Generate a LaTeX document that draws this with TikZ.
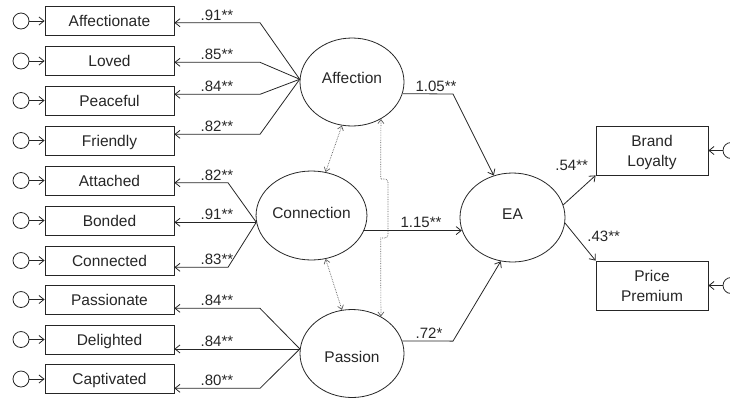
\documentclass[tikz,border=0pt]{standalone}
\usepackage{fontspec}
\setmainfont{Liberation Sans}
\usetikzlibrary{shapes.geometric,arrows.meta}
\definecolor{ink}{HTML}{262626}
\definecolor{dotc}{HTML}{5E5E5E}
\newcommand{\captext}[2]{\raisebox{#1}[11.1pt][0pt]{#2}}
\begin{document}
\begin{tikzpicture}[x=1pt,y=-1pt,
  every node/.style={text=ink},
  ind/.style={draw=ink, line width=0.8pt, minimum width=129pt, minimum height=29pt, inner sep=0pt,
    font=\fontsize{15.5}{20}\selectfont, text height=11.1pt, text depth=0pt},
  obs/.style={draw=ink, line width=0.8pt, minimum width=112pt, minimum height=49pt, inner sep=0pt,
    align=center, font=\fontsize{15.5}{20}\selectfont, text height=31.1pt, text depth=0pt},
  lat/.style={draw=ink, ellipse, line width=0.8pt, minimum width=104pt, minimum height=88pt, inner sep=0pt,
    font=\fontsize{15.5}{20}\selectfont},
  err/.style={draw=ink, circle, line width=0.8pt, minimum size=16pt, inner sep=0pt},
  arr/.style={draw=ink, line width=0.8pt, -{Straight Barb[length=5pt,width=8pt]}},
  corr/.style={draw=dotc, line width=0.7pt, densely dotted,
    {Straight Barb[length=4pt,width=6pt]}-{Straight Barb[length=4pt,width=6pt]}},
  lab/.style={font=\fontsize{15}{18}\selectfont, anchor=base, inner sep=0pt},
]
\useasboundingbox (0,0) rectangle (730,397);

% latent variables
\node[lat] (Affection) at (352,82) {\captext{4pt}{Affection}};
\node[lat, minimum width=103pt, minimum height=89pt] (Connection) at (311.5,215.5) {\captext{2.5pt}{Connection}};
\node[lat] (Passion) at (352,353.5) {\captext{-3.5pt}{Passion}};
\node[lat, minimum width=105pt, minimum height=89pt] (EA) at (512.5,217.5) {\captext{4pt}{EA}};

% indicators
\node[ind] (i1) at (109.5,21) {Affectionate};
\node[ind] (i2) at (109.5,61) {Loved};
\node[ind] (i3) at (109.5,100.5) {Peaceful};
\node[ind] (i4) at (109.5,140.5) {Friendly};
\node[ind] (i5) at (109.5,180.5) {Attached};
\node[ind] (i6) at (109.5,220.5) {Bonded};
\node[ind] (i7) at (109.5,260.5) {Connected};
\node[ind] (i8) at (109.5,299.5) {Passionate};
\node[ind] (i9) at (109.5,339.5) {Delighted};
\node[ind] (i10) at (109.5,379) {Captivated};

% error terms on the left
\foreach \k/\y in {1/21,2/61,3/100.5,4/140.5,5/180.5,6/220.5,7/260.5,8/299.5,9/339.5,10/379}{
  \node[err] (e\k) at (21,\y) {};
  \draw[arr] (e\k.east) -- (i\k.west);
}

% outcome boxes
\node[obs] (BL) at (652,150.5) {Brand\\Loyalty};
\node[obs] (PP) at (652,285.5) {Price\\Premium};
\node[err] (eB) at (731,150.5) {};
\node[err] (eP) at (731,285.5) {};
\draw[arr] (eB.west) -- (BL.east);
\draw[arr] (eP.west) -- (PP.east);

% loadings: Affection
\coordinate (b1) at (260,22.7);
\coordinate (b2) at (260,62.3);
\coordinate (b3) at (260,94.3);
\coordinate (b4) at (260,134.3);
\draw[arr] (Affection.177) -- (b1) -- (b1 -| i1.east);
\draw[arr] (Affection.177) -- (b2) -- (b2 -| i2.east);
\draw[arr] (Affection.177) -- (b3) -- (b3 -| i3.east);
\draw[arr] (Affection.177) -- (b4) -- (b4 -| i4.east);
\node[lab] at (217,20) {.91**};
\node[lab] at (217,59.6) {.85**};
\node[lab] at (217,91.6) {.84**};
\node[lab] at (217,131.6) {.82**};

% loadings: Connection
\coordinate (b5) at (228,182.7);
\coordinate (b7) at (228,267.3);
\draw[arr] (Connection.187) -- (b5) -- (b5 -| i5.east);
\draw[arr] (Connection.187) -- (Connection.187 -| i6.east);
\draw[arr] (Connection.187) -- (b7) -- (b7 -| i7.east);
\node[lab] at (217,180) {.82**};
\node[lab] at (217,219) {.91**};
\node[lab] at (217,264.6) {.83**};

% loadings: Passion
\coordinate (b8) at (260,308.3);
\coordinate (b10) at (260,388.3);
\draw[arr] (Passion.175) -- (b8) -- (b8 -| i8.east);
\draw[arr] (Passion.175) -- (Passion.175 -| i9.east);
\draw[arr] (Passion.175) -- (b10) -- (b10 -| i10.east);
\node[lab] at (217,305.6) {.84**};
\node[lab] at (217,346.3) {.84**};
\node[lab] at (217,385.6) {.80**};

% structural paths
\coordinate (s1) at (453,94);
\coordinate (s3) at (453,341.1);
\draw[arr] (Affection.-13.5) -- (s1) -- (EA.114);
\draw[arr] (Connection.-16.6) -- (Connection.-16.6 -| EA.194);
\draw[arr] (Passion.14) -- (s3) -- (EA.-105);
\draw[arr] (EA.14) -- (BL.south west);
\draw[arr] (EA.-6) -- (PP.north west);
\node[lab] at (436,91.5) {1.05**};
\node[lab] at (421,227.3) {1.15**};
\node[lab] at (429,338.4) {.72*};
\node[lab] at (571.7,170) {.54**};
\node[lab] at (603.7,241.7) {.43**};

% correlations
\draw[corr] (Affection.-103) -- (Connection.72);
\draw[corr] (Connection.-72) -- (Passion.103);
\draw[corr] (Affection.-52) -- (380.7,179) .. controls (388,179) .. (388,186)
  -- (388,231) .. controls (388,238) .. (380.7,238) -- (Passion.52);
\end{tikzpicture}
\end{document}
